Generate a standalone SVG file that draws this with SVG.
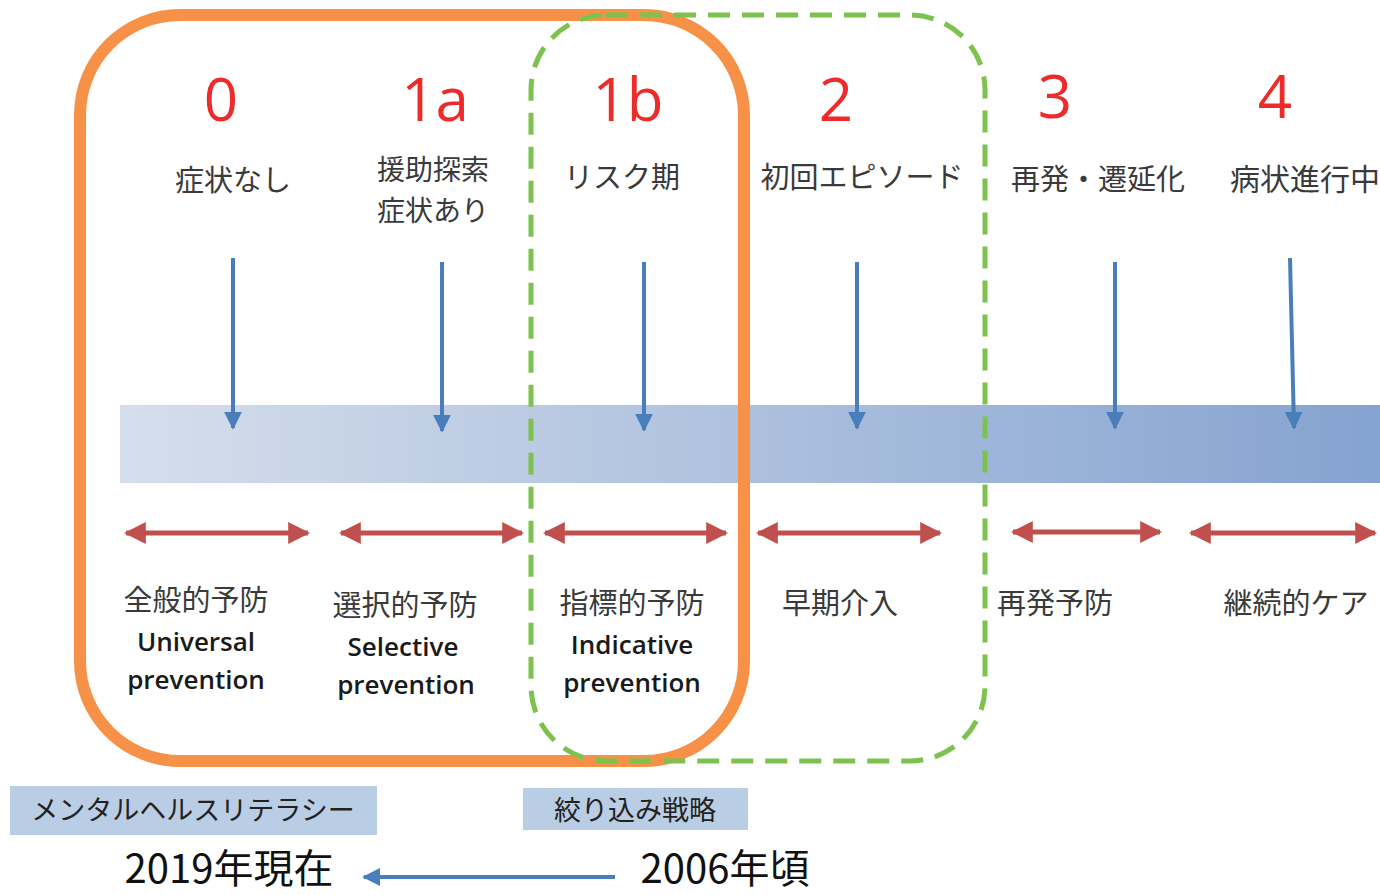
<svg xmlns="http://www.w3.org/2000/svg" width="1380" height="895" viewBox="0 0 1380 895">
<defs>
<linearGradient id="band" x1="0" y1="0" x2="1" y2="0">
<stop offset="0" stop-color="#d5deec"/>
<stop offset="1" stop-color="#85a3d0"/>
</linearGradient>
<marker id="down" viewBox="0 0 10 10" refX="9" refY="5" markerWidth="4.5" markerHeight="4.5" orient="auto" markerUnits="strokeWidth">
<path d="M0,0 L10,5 L0,10 z" fill="#4a7ebb"/>
</marker>
<marker id="red" viewBox="0 0 10 10" refX="9" refY="5" markerWidth="4.4" markerHeight="4.4" orient="auto-start-reverse" markerUnits="strokeWidth">
<path d="M0,0 L10,5 L0,10 z" fill="#c0504d"/>
</marker>
<style>
.num{font-family:"Open Sans","Liberation Sans",sans-serif;font-size:60px;fill:#ee2b2b;text-anchor:middle;font-weight:400}
.jp{font-family:"Noto Sans CJK JP","Noto Sans",sans-serif;font-size:29px;fill:#3a3a3a;text-anchor:middle}
.en{font-family:"Open Sans","Liberation Sans",sans-serif;font-size:26px;fill:#1a1a1a;text-anchor:middle;font-weight:600}
.big{font-family:"Noto Sans CJK JP","Noto Sans",sans-serif;font-size:40px;fill:#111;text-anchor:middle}
.bx{font-family:"Noto Sans CJK JP","Noto Sans",sans-serif;font-size:27px;fill:#222;text-anchor:middle}
.dn{stroke:#4a7ebb;stroke-width:4;fill:none;marker-end:url(#down)}
.dbl{stroke:#c0504d;stroke-width:5;fill:none;marker-start:url(#red);marker-end:url(#red)}
</style>
</defs>
<rect id="band-bar" x="120" y="405" width="1260" height="78" fill="url(#band)"/>
<g id="orange-box"><rect x="80" y="15" width="664" height="746" rx="100" ry="100" fill="none" stroke="#f79148" stroke-width="12"/></g>
<g id="green-box"><rect x="531" y="15" width="454" height="746" rx="75" ry="75" fill="none" stroke="#7dc24f" stroke-width="5" stroke-dasharray="22 12"/></g>
<g id="connectors">
<line class="dn" x1="233" y1="258" x2="233" y2="428"/>
<line class="dn" x1="442" y1="262" x2="442" y2="431"/>
<line class="dn" x1="644" y1="262" x2="644" y2="430"/>
<line class="dn" x1="857" y1="262" x2="857" y2="428"/>
<line class="dn" x1="1115" y1="262" x2="1115" y2="428"/>
<line class="dn" x1="1290" y1="258" x2="1294" y2="428"/>
<line class="dbl" x1="126" y1="533" x2="308" y2="533"/>
<line class="dbl" x1="341" y1="533" x2="522" y2="533"/>
<line class="dbl" x1="545" y1="533" x2="726" y2="533"/>
<line class="dbl" x1="758" y1="533" x2="940" y2="533"/>
<line class="dbl" x1="1013" y1="532" x2="1160" y2="532"/>
<line class="dbl" x1="1191" y1="533" x2="1375" y2="533"/>
<line class="dn" x1="615" y1="877" x2="364" y2="877"/>
</g>
<g id="stage0"><text class="num" x="221" y="121">0</text><text class="jp" x="233" y="191">症状なし</text><text class="jp" x="196" y="611">全般的予防</text><text class="en" x="196" y="651">Universal</text><text class="en" x="196" y="689">prevention</text></g>
<g id="stage1a"><text class="num" x="435" y="121">1a</text><text class="jp" x="433" y="180" style="font-size:28px">援助探索</text><text class="jp" x="433" y="221" style="font-size:28px">症状あり</text><text class="jp" x="405" y="616">選択的予防</text><text class="en" x="403" y="656">Selective</text><text class="en" x="406" y="694">prevention</text></g>
<g id="stage1b"><text class="num" x="628" y="121">1b</text><text class="jp" x="622" y="188">リスク期</text><text class="jp" x="632" y="614">指標的予防</text><text class="en" x="632" y="654">Indicative</text><text class="en" x="632" y="692">prevention</text></g>
<g id="stage2"><text class="num" x="836" y="121">2</text><text class="jp" x="862" y="188">初回エピソード</text><text class="jp" x="840" y="614">早期介入</text></g>
<g id="stage3"><text class="num" x="1055" y="118">3</text><text class="jp" x="1098" y="190">再発・遷延化</text><text class="jp" x="1055" y="614">再発予防</text></g>
<g id="stage4"><text class="num" x="1275" y="118">4</text><text class="jp" x="1305" y="190" style="font-size:30px">病状進行中</text><text class="jp" x="1296" y="614">継続的ケア</text></g>
<g id="literacy"><rect x="10" y="786" width="367" height="49" fill="#b9cde5"/><text class="bx" x="193" y="820">メンタルヘルスリテラシー</text></g>
<g id="strategy"><rect x="523" y="788" width="225" height="42" fill="#b9cde5"/><text class="bx" x="635" y="820">絞り込み戦略</text></g>
<g id="y2019"><text class="big" x="229" y="883">2019年現在</text></g>
<g id="y2006"><text class="big" x="725" y="883">2006年頃</text></g>
</svg>
